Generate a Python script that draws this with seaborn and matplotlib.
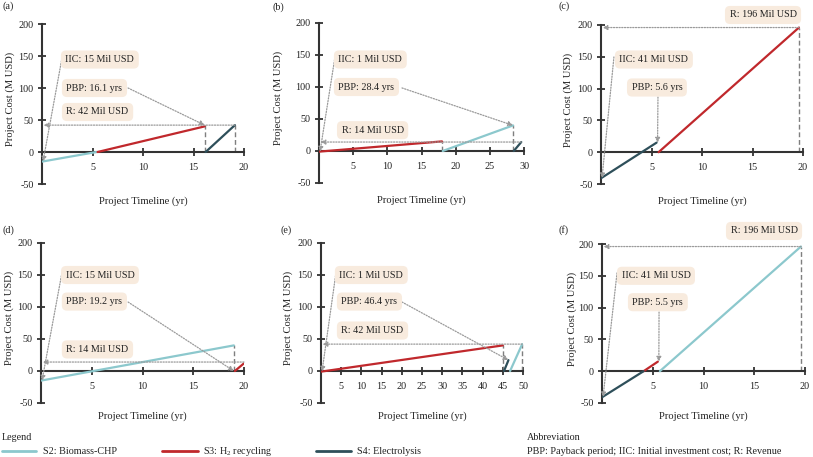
import numpy as np
import pandas as pd
import matplotlib
matplotlib.use("Agg")
import matplotlib.pyplot as plt
import seaborn as sns
from matplotlib.lines import Line2D

# ---------------- data ----------------
PANEL_LABELS = ["(a)", "(b)", "(c)", "(d)", "(e)", "(f)"]
X_MAX = [20, 30, 20, 20, 50, 20]
IIC = [15, 1, 41, 15, 1, 41]                 # initial investment cost (M USD)
PBP = [16.1, 28.4, 5.6, 19.2, 46.4, 5.5]     # payback period (yr)
REVENUE = [42, 14, 196, 14, 42, 196]         # revenue (M USD)
REV_LINE_END = [19.1, 29.6, 19.6, 20.0, 49.8, 19.6]
PBP_POINT_X = [16.1, 28.4, 5.6, 19.0, 46.4, 5.6]
PBP_POINT_Y = [42, 40, 15, 0, 17, 15]

SERIES = ["S2: Biomass-CHP", "S3: H$_2$ recycling", "S4: Electrolysis"]
# segments (x0, y0, x1, y1) per panel
S2_SEGMENTS = [(0, -15, 5.4, 0), (18.1, 0, 28.4, 40), None,
               (0, -15, 19.0, 40), (46.8, 0, 49.8, 42), (5.7, 0, 19.6, 196)]
S3_SEGMENTS = [(5.5, 0, 16.1, 40), (0, -1, 18.0, 15), (5.7, 0, 19.6, 196),
               (19.1, 0, 20.0, 12), (0, -1, 45.0, 40), (4.1, 0, 5.5, 15)]
S4_SEGMENTS = [(16.2, 0, 19.1, 42), (28.5, 0, 29.6, 14), (0, -41, 5.5, 15),
               None, (45.3, 0, 46.4, 17), (0, -41, 4.1, 0)]
# dashed vertical guides (x, top)
GUIDES = [[(16.1, 42), (19.1, 42)], [(18.0, 14), (28.4, 40)], [(19.6, 196)],
          [(19.0, 40)], [(45.0, 40), (49.8, 42)], [(19.6, 196)]]
Y_TICKS = [-50, 0, 50, 100, 150, 200]

# ---------------- style ----------------
sns.set_style("ticks")
plt.rcParams["font.family"] = ["Liberation Serif", "DejaVu Serif"]
plt.rcParams["mathtext.fontset"] = "custom"
plt.rcParams["mathtext.rm"] = "Liberation Serif"
plt.rcParams["mathtext.it"] = "Liberation Serif:italic"
plt.rcParams["axes.unicode_minus"] = False

PALETTE = {SERIES[0]: "#8cc8cd", SERIES[1]: "#c0282c", SERIES[2]: "#2e4f5a"}
AXCOL = "#333333"
ARROWCOL = "#9a9a9a"
BOXCOL = "#f8ebde"
FS = 7.3

rows = []
for i in range(6):
    for name, segs in zip(SERIES, [S2_SEGMENTS, S3_SEGMENTS, S4_SEGMENTS]):
        s = segs[i]
        if s is None:
            continue
        rows.append((i, name, f"{name}-{i}", s[0], s[1]))
        rows.append((i, name, f"{name}-{i}", s[2], s[3]))
df = pd.DataFrame(rows, columns=["panel", "series", "seg", "x", "y"])

W, H = 813, 457
fig = plt.figure(figsize=(W / 100, H / 100), dpi=100)

AX_PX = [(42, 24, 202, 160), (319, 23, 205, 160), (601, 25, 202, 159),
         (41, 243, 203, 160), (321, 243, 202, 160), (602, 244, 203, 159)]
LABEL_PX = [(2, 6), (272, 7), (558, 6), (2, 230), (280, 230), (558, 230)]

# box left (axes frac), y centre (axes frac)
IIC_BOX = [(0.094, 0.778), (0.073, 0.772), (0.069, 0.783), (0.099, 0.80), (0.069, 0.80), (0.074, 0.80)]
PBP_BOX = [(0.099, 0.60), (0.073, 0.60), (0.129, 0.607), (0.103, 0.634), (0.079, 0.634), (0.128, 0.634)]
R_BOX = [(0.099, 0.45), (0.088, 0.33), (0.614, 1.063), (0.103, 0.335), (0.079, 0.453), (0.611, 1.082)]
IIC_FROM = [(0.099, 0.7875), (0.078, 0.7875), (0.064, 0.799), (0.103, 0.8125), (0.074, 0.8125), (0.074, 0.818)]
PBP_FROM = [(0.426, 0.60), (0.405, 0.594), (0.282, 0.547), (0.429, 0.631), (0.401, 0.631), (0.281, 0.572)]
YLAB_X = [-0.135, -0.175, -0.139, -0.133, -0.139, -0.123]
XLAB_Y = [-0.11, -0.11, -0.11, -0.08, -0.08, -0.08]

def arrow_props():
    return dict(arrowstyle="-|>", color=ARROWCOL, lw=0.9, linestyle=(0, (1, 1.2)),
                mutation_scale=7, shrinkA=0, shrinkB=0)

def box(ax, left, yc, text):
    ax.text(left + 4.5 / ax.bbox.width * 1.0, yc, text, transform=ax.transAxes,
            ha="left", va="center", fontsize=FS, color="#222222", clip_on=False,
            bbox=dict(boxstyle="round,pad=0.45,rounding_size=0.5", fc=BOXCOL, ec="none"),
            zorder=5)

for i in range(6):
    l, t, w, h = AX_PX[i]
    ax = fig.add_axes([l / W, 1 - (t + h) / H, w / W, h / H])
    sub = df[df.panel == i]
    sns.lineplot(data=sub, x="x", y="y", hue="series", units="seg", estimator=None,
                 palette=PALETTE, hue_order=SERIES, legend=False, ax=ax, lw=1.6,
                 sort=False, zorder=3)
    ax.set_xlim(0, X_MAX[i])
    ax.set_ylim(-50, 200)
    for gx, gt in GUIDES[i]:
        ax.plot([gx, gx], [0, gt], color="#7f7f7f", lw=1.0, ls=(0, (3.5, 2)), zorder=2, clip_on=False)
    # revenue dotted line with arrow to y-axis
    ax.annotate("", xy=(0.15 * X_MAX[i] / 20, REVENUE[i]), xytext=(REV_LINE_END[i], REVENUE[i]),
                arrowprops=arrow_props(), annotation_clip=False, zorder=4)
    # IIC arrow
    ax.annotate("", xy=(0.1 * X_MAX[i] / 20, -IIC[i]), xycoords="data",
                xytext=IIC_FROM[i], textcoords="axes fraction",
                arrowprops=arrow_props(), annotation_clip=False, zorder=4)
    # PBP arrow
    ax.annotate("", xy=(PBP_POINT_X[i], PBP_POINT_Y[i]), xycoords="data",
                xytext=PBP_FROM[i], textcoords="axes fraction",
                arrowprops=arrow_props(), annotation_clip=False, zorder=4)
    box(ax, IIC_BOX[i][0], IIC_BOX[i][1], f"IIC: {IIC[i]} Mil USD")
    box(ax, PBP_BOX[i][0], PBP_BOX[i][1], f"PBP: {PBP[i]} yrs")
    box(ax, R_BOX[i][0], R_BOX[i][1], f"R: {REVENUE[i]} Mil USD")

    # axes styling
    for s in ["top", "right"]:
        ax.spines[s].set_visible(False)
    ax.spines["bottom"].set_position(("data", 0))
    for s in ["bottom", "left"]:
        ax.spines[s].set_color(AXCOL)
        ax.spines[s].set_linewidth(1.5)
    ax.set_xticks(np.arange(5, X_MAX[i] + 1, 5))
    ax.set_xticklabels([str(v) for v in np.arange(5, X_MAX[i] + 1, 5)])
    ax.set_yticks(Y_TICKS)
    ax.set_yticklabels([str(v) for v in Y_TICKS])
    ax.tick_params(direction="inout", length=6, width=1.3, color=AXCOL,
                   labelsize=FS, labelcolor="#222222", pad=3)
    ax.tick_params(axis="x", pad=5)
    ax.set_xlabel("")
    ax.set_ylabel("Project Cost (M USD)", fontsize=FS + 0.3, color="#222222")
    ax.yaxis.set_label_coords(YLAB_X[i], 0.53)
    ax.text(0.5, XLAB_Y[i], "Project Timeline (yr)", transform=ax.transAxes,
            ha="center", va="center", fontsize=FS + 0.3, color="#222222")
    ax.patch.set_alpha(0)
    fig.text(LABEL_PX[i][0] / W, 1 - LABEL_PX[i][1] / H, PANEL_LABELS[i],
             ha="left", va="center", fontsize=FS, color="#222222")

# ---------------- legend ----------------
fig.text(2 / W, 1 - 437 / H, "Legend", ha="left", va="center", fontsize=FS, color="#222222")
LEG_PX = [(2, 36, 43), (162, 198, 203), (316, 351, 357)]
for name, (x0, x1, xt) in zip(SERIES, LEG_PX):
    fig.add_artist(Line2D([x0 / W, x1 / W], [1 - 451 / H] * 2, color=PALETTE[name], lw=2.0,
                          transform=fig.transFigure))
    fig.text(xt / W, 1 - 451 / H, name, ha="left", va="center", fontsize=FS, color="#222222")
fig.text(527 / W, 1 - 437 / H, "Abbreviation", ha="left", va="center", fontsize=FS, color="#222222")
fig.text(527 / W, 1 - 452 / H, "PBP: Payback period; IIC: Initial investment cost; R: Revenue",
         ha="left", va="center", fontsize=FS, color="#222222")

fig.savefig("out.png", dpi=100)
